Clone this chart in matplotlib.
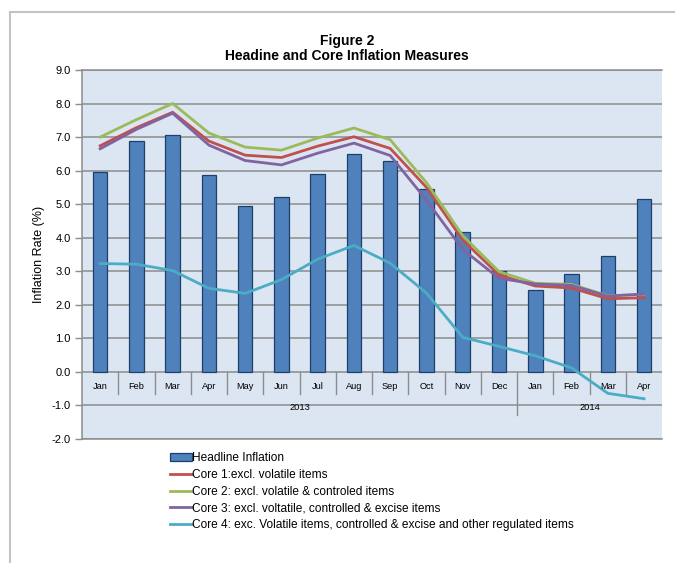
import numpy as np
import matplotlib
matplotlib.use("Agg")
import matplotlib.pyplot as plt
from matplotlib.lines import Line2D

plt.rcParams['font.family'] = ['Liberation Sans', 'DejaVu Sans']

# data
months = ["Jan", "Feb", "Mar", "Apr", "May", "Jun", "Jul", "Aug", "Sep", "Oct", "Nov", "Dec",
          "Jan", "Feb", "Mar", "Apr"]
years = ["2013", "2014"]
headline = [5.97, 6.88, 7.07, 5.87, 4.96, 5.22, 5.90, 6.49, 6.29, 5.45, 4.17, 3.01,
            2.45, 2.92, 3.44, 5.16]
core1 = [6.74, 7.28, 7.74, 6.88, 6.46, 6.39, 6.73, 7.01, 6.66, 5.50, 3.93, 2.89,
         2.56, 2.50, 2.18, 2.21]
core2 = [7.00, 7.52, 8.00, 7.12, 6.70, 6.61, 6.97, 7.27, 6.92, 5.64, 4.06, 2.99,
         2.64, 2.61, 2.27, 2.31]
core3 = [6.65, 7.23, 7.71, 6.76, 6.30, 6.17, 6.52, 6.82, 6.45, 5.12, 3.65, 2.79,
         2.62, 2.58, 2.26, 2.32]
core4 = [3.23, 3.21, 3.02, 2.49, 2.34, 2.75, 3.36, 3.77, 3.24, 2.35, 1.03, 0.76,
         0.48, 0.12, -0.64, -0.80]

labels = ["Headline Inflation",
          "Core 1:excl. volatile items",
          "Core 2: excl. volatile & controled items",
          "Core 3: excl. voltatile, controlled & excise items",
          "Core 4: exc. Volatile items, controlled & excise and other regulated items"]
colors = ["#C0504D", "#9BBB59", "#8064A2", "#4BACC6"]

x = np.arange(len(months))

fig = plt.figure(figsize=(6.75, 5.63), dpi=100)
ax = fig.add_axes([0.1215, 0.2203, 0.8595, 0.6554])
ax.set_facecolor("#DCE6F2")

ax.set_ylim(-2, 9)
ax.set_xlim(-0.5, len(months) - 0.5)
ax.set_yticks(np.arange(-2, 10, 1))
ax.set_yticklabels([f"{v:.1f}" for v in np.arange(-2, 10, 1)], fontsize=8)
ax.set_xticks([])
ax.yaxis.grid(True, color="#8C8C8C", linewidth=1.1)
ax.set_axisbelow(True)
ax.spines["right"].set_visible(False)
for s in ["left", "top", "bottom"]:
    ax.spines[s].set_color("#8C8C8C")
    ax.spines[s].set_linewidth(1.1)
ax.tick_params(axis="y", color="#8C8C8C", length=5, width=1, pad=3)

ax.bar(x, headline, width=0.4, color="#4F81BD", edgecolor="#1F3F6B", linewidth=0.9, zorder=2)
for vals, c in zip([core1, core2, core3, core4], colors):
    ax.plot(x, vals, color=c, linewidth=2, zorder=3)

# category axis drawn inside the plot
for i in range(len(months) - 1):
    bottom = -1.3 if i == 11 else -0.65
    ax.plot([i + 0.5, i + 0.5], [bottom, 0], color="#8C8C8C", linewidth=1, zorder=1)
for i, m in enumerate(months):
    ax.text(i, -0.45, m, ha="center", va="center", fontsize=6.7)
ax.text(5.5, -1.07, years[0], ha="center", va="center", fontsize=6.7)
ax.text(13.5, -1.07, years[1], ha="center", va="center", fontsize=6.7)

ax.set_ylabel("Inflation Rate (%)", fontsize=9, labelpad=5)
ax.set_title("Figure 2\nHeadine and Core Inflation Measures", fontsize=10,
             fontweight="bold", pad=7, linespacing=1.1, x=0.457)

# legend
handles = [plt.Rectangle((0, 0), 1, 1, facecolor="#4F81BD", edgecolor="#1F3F6B", linewidth=0.9)]
handles += [Line2D([0], [0], color=c, linewidth=2) for c in colors]
fig.legend(handles, labels, loc="upper left", bbox_to_anchor=(0.252, 0.197),
           frameon=False, fontsize=8.6, handlelength=1.8, handleheight=0.6,
           handletextpad=0.05, labelspacing=0.4, borderaxespad=0, borderpad=0)

# outer frame
fig.add_artist(Line2D([10 / 675, 10 / 675], [0, 1 - 12 / 563], transform=fig.transFigure,
                      color="#C3C3C3", linewidth=1.5))
fig.add_artist(Line2D([10 / 675, 1], [1 - 12 / 563, 1 - 12 / 563], transform=fig.transFigure,
                      color="#C3C3C3", linewidth=1.5))

fig.savefig("out.png", dpi=100)
